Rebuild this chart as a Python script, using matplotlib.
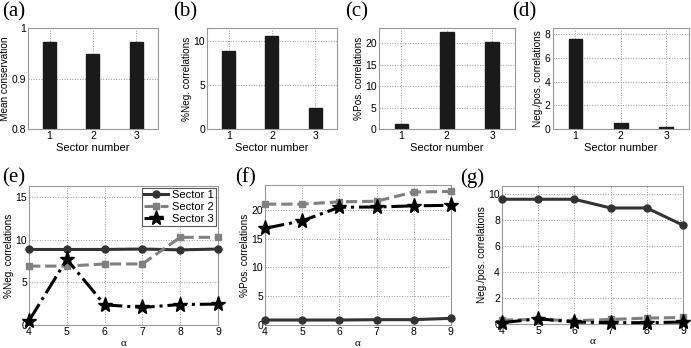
import matplotlib
matplotlib.use("Agg")
import matplotlib.pyplot as plt

plt.rcParams['font.family'] = ['Liberation Sans', 'DejaVu Sans']

# top row bar data
sectors = [1, 2, 3]
mean_cons = [0.972, 0.948, 0.973]
neg_pct = [8.78, 10.57, 2.4]
pos_pct = [1.17, 22.6, 20.3]
neg_pos_ratio = [7.6, 0.48, 0.14]

# bottom row: values vs alpha
alpha = [4, 5, 6, 7, 8, 9]
neg_s1 = [8.85, 8.85, 8.85, 8.9, 8.8, 8.9]
neg_s2 = [6.9, 6.9, 7.15, 7.15, 10.27, 10.27]
neg_s3 = [0.5, 7.7, 2.37, 2.06, 2.4, 2.45]
pos_s1 = [0.87, 0.87, 0.87, 0.93, 0.93, 1.16]
pos_s2 = [21.0, 21.0, 21.4, 21.5, 23.1, 23.2]
pos_s3 = [16.8, 18.1, 20.46, 20.5, 20.7, 20.8]
ratio_s1 = [9.57, 9.57, 9.57, 8.9, 8.9, 7.58]
ratio_s2 = [0.3, 0.35, 0.25, 0.35, 0.45, 0.5]
ratio_s3 = [0.1, 0.4, 0.15, 0.1, 0.1, 0.15]

fig = plt.figure(figsize=(6.91, 3.48), dpi=100)

def style(ax):
    ax.grid(True, linestyle=':', color='#999999', linewidth=0.7)
    ax.set_axisbelow(True)
    for s in ax.spines.values():
        s.set_color('#999999')
        s.set_linewidth(0.8)
    ax.tick_params(labelsize=7.5, length=0, pad=1.5)

def panel_label(x, y, txt):
    fig.text(x, y, txt, fontsize=15, family=['Liberation Serif', 'DejaVu Serif'],
             ha='left', va='top')

top_pos = [
    [0.0405, 0.629, 0.188, 0.290],
    [0.2996, 0.629, 0.188, 0.290],
    [0.548, 0.629, 0.197, 0.290],
    [0.800, 0.629, 0.197, 0.290],
]
top_data = [mean_cons, neg_pct, pos_pct, neg_pos_ratio]
top_ylab = ['Mean conservation', '%Neg. correlations', '%Pos. correlations',
            'Neg./pos. correlations']
top_ylim = [(0.8, 1.0), (0, 11.4), (0, 23.5), (0, 8.5)]
top_ticks = [[0.8, 0.9, 1.0], [0, 5, 10], [0, 5, 10, 15, 20], [0, 2, 4, 6, 8]]
top_ticklab = [['0.8', '0.9', '1'], None, None, None]
top_labels = ['(a)', '(b)', '(c)', '(d)']
top_lab_x = [2, 173, 345, 512]

for i in range(4):
    ax = fig.add_axes(top_pos[i])
    style(ax)
    ax.bar(sectors, top_data[i], width=0.3, color='#1a1a1a', edgecolor='#1a1a1a')
    ax.set_xlim(0.5, 3.5)
    ax.set_ylim(*top_ylim[i])
    ax.set_xticks(sectors)
    ax.set_yticks(top_ticks[i])
    if top_ticklab[i]:
        ax.set_yticklabels(top_ticklab[i])
    ax.set_xlabel('Sector number', fontsize=8, labelpad=1)
    ax.set_ylabel(top_ylab[i], fontsize=7.2, labelpad=1)
    panel_label(top_lab_x[i] / 691, 1 - 2 / 348, top_labels[i])

bot_pos = [
    [0.042, 0.066, 0.2735, 0.400],
    [0.3835, 0.066, 0.269, 0.402],
    [0.7265, 0.069, 0.262, 0.397],
]
bot_data = [(neg_s1, neg_s2, neg_s3), (pos_s1, pos_s2, pos_s3),
            (ratio_s1, ratio_s2, ratio_s3)]
bot_ylab = ['%Neg. correlations', '%Pos. correlations', 'Neg./pos. correlations']
bot_ylim = [(0, 16.3), (0, 24.3), (0, 10.6)]
bot_ticks = [[0, 5, 10, 15], [0, 5, 10, 15, 20], [0, 2, 4, 6, 8, 10]]
bot_labels = ['(e)', '(f)', '(g)']
bot_lab_x = [2, 235, 460]

for i in range(3):
    ax = fig.add_axes(bot_pos[i])
    style(ax)
    s1, s2, s3 = bot_data[i]
    ax.plot(alpha, s1, '-', color='#333333', lw=2.2, marker='o', ms=5,
            label='Sector 1', clip_on=False, zorder=3)
    ax.plot(alpha, s2, '--', color='#808080', lw=2.2, marker='s', ms=5,
            label='Sector 2', clip_on=False, zorder=3)
    ax.plot(alpha, s3, '-.', color='#000000', lw=2.2, marker='*', ms=11,
            label='Sector 3', clip_on=False, zorder=4)
    ax.set_xlim(4, 9)
    ax.set_ylim(*bot_ylim[i])
    ax.set_xticks(alpha)
    ax.set_yticks(bot_ticks[i])
    ax.set_xlabel('α', fontsize=8, labelpad=1,
                  family=['Liberation Serif', 'DejaVu Serif'])
    ax.set_ylabel(bot_ylab[i], fontsize=7.2, labelpad=1)
    if i == 0:
        leg = ax.legend(loc='upper right', fontsize=8, handlelength=2.2,
                        borderpad=0.2, labelspacing=0.15, handletextpad=0.3,
                        fancybox=False, borderaxespad=0.2)
        leg.get_frame().set_edgecolor('#333333')
        leg.get_frame().set_linewidth(0.8)
    panel_label(bot_lab_x[i] / 691, 1 - 168 / 348, bot_labels[i])

fig.savefig('out.png', dpi=100)
